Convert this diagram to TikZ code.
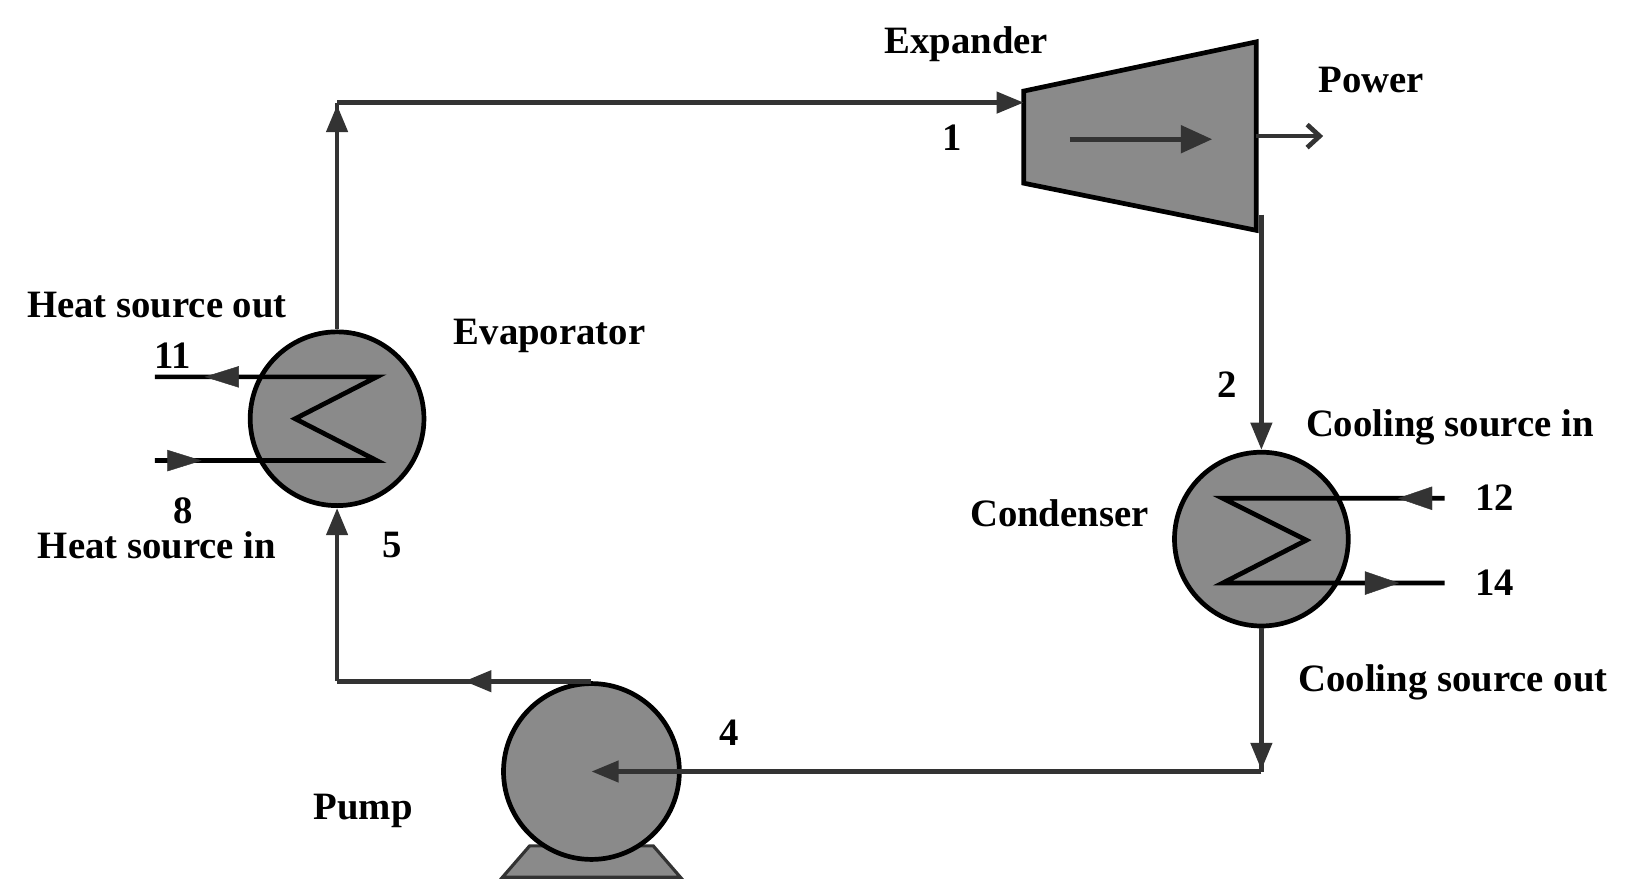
\documentclass[tikz,border=0pt]{standalone}
\usepackage{fontspec}
\setmainfont{Liberation Serif}
\usetikzlibrary{arrows.meta,decorations.markings}
\definecolor{ln}{HTML}{333333}
\definecolor{fl}{HTML}{8A8A8A}
\begin{document}
\begin{tikzpicture}[x=1pt,y=-1pt,
  lbl/.style={font=\fontsize{37}{40}\selectfont\bfseries,inner sep=0},
  pipe/.style={draw=ln,line width=4.5},
  tip/.style={-{Triangle[length=26,width=20]}},
  mid/.style={postaction={decorate},decoration={markings,mark=at position #1 with {\arrow{Triangle[length=26,width=20]}}}},
  comp/.style={draw=black,line width=4.5,fill=fl}]
\useasboundingbox (0,0) rectangle (1560,855);
% expander
\draw[comp] (978,87) -- (1200,40) -- (1200,220) -- (978,175) -- cycle;
\coordinate (ein) at (978,98);
\draw[pipe,-{Triangle[length=30,width=26]}] (1022,133) -- (1158,133);
\coordinate (pw1) at (1200,130); \coordinate (pw2) at (1264,130);
\draw[pipe,-{Straight Barb[length=12,width=22]}] (pw1) -- (pw2);
% evaporator
\node[comp,circle,minimum size=166] (ev) at (322,400) {};
\draw[pipe,black] (148,360) -- (360,360) -- (282,400) -- (360,440) -- (148,440);
\draw[ln,fill=ln] (196,360) -- (228,350) -- (228,370) -- cycle;
\draw[ln,fill=ln] (192,440) -- (160,430) -- (160,450) -- cycle;
% condenser
\node[comp,circle,minimum size=166] (co) at (1205,515) {};
\draw[pipe,black] (1380,476) -- (1168,476) -- (1248,516) -- (1168,557) -- (1380,557);
\draw[ln,fill=ln] (1336,476) -- (1368,465) -- (1368,487) -- cycle;
\draw[ln,fill=ln] (1336,557) -- (1304,546) -- (1304,568) -- cycle;
% pump
\draw[ln,line width=3,fill=fl] (480,838) -- (650,838) -- (624,808) -- (506,808) -- cycle;
\node[comp,circle,minimum size=168] (pu) at (565,737) {};
% pipes
\coordinate (c1) at (ev.north |- 0,98);
\draw[pipe,mid=0.99] (ev.north) -- (c1);
\draw[pipe,tip] (c1) -- (ein);
\coordinate (c2) at (1205,205);
\draw[pipe,tip] (c2) -- (co.north);
\coordinate (c3) at (1205,737);
\draw[pipe,mid=0.99] (co.south) -- (c3);
\draw[pipe,tip] (c3) -- (pu.center);
\coordinate (c4) at (ev.south |- pu.north);
\draw[pipe,mid=0.5] (pu.north) -- (c4);
\draw[pipe,tip] (c4) -- (ev.south);
% labels
\node[lbl] (l1) at (923,42) {Expander};
\node[lbl] (l2) at (1310,76) {Power};
\node[lbl] (l3) at (910,132) {1};
\node[lbl] (l4) at (150,291) {Heat source out};
\node[lbl] (l5) at (165,340) {11};
\node[lbl] (l6) at (175,488) {8};
\node[lbl] (l7) at (150,521) {Heat source in};
\node[lbl] (l8) at (525,321) {Evaporator};
\node[lbl] (l9) at (375,521) {5};
\node[lbl] (l10) at (1172,367) {2};
\node[lbl] (l11) at (1385,408) {Cooling source in};
\node[lbl] (l12) at (1428,475) {12};
\node[lbl] (l13) at (1428,557) {14};
\node[lbl] (l14) at (1012,490) {Condenser};
\node[lbl] (l15) at (1388,652) {Cooling source out};
\node[lbl] (l16) at (347,775) {Pump};
\node[lbl] (l17) at (697,700) {4};
\end{tikzpicture}
\end{document}
